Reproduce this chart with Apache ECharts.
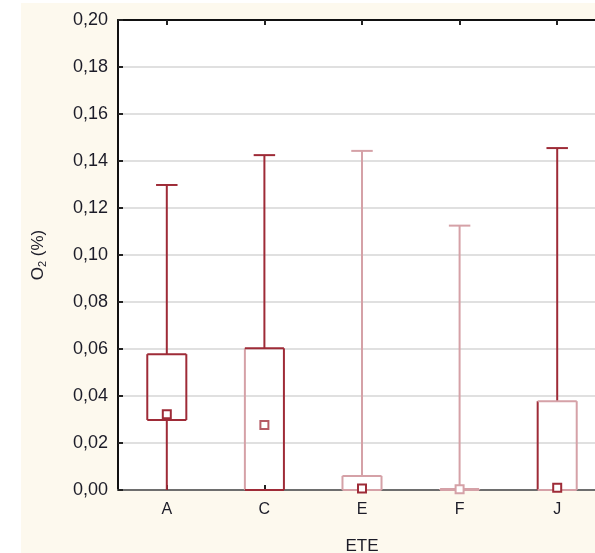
<!DOCTYPE html>
<html>
<head>
<meta charset="utf-8">
<script src="https://cdn.jsdelivr.net/npm/echarts@6/dist/echarts.min.js"></script>
<style>
html,body{margin:0;padding:0;background:#ffffff;overflow:hidden;width:595px;height:553px;}
#bg{position:absolute;left:21px;top:3px;width:574px;height:550px;background:#fdf9ee;}
#chart{position:absolute;left:0;top:0;width:620px;height:553px;}
</style>
</head>
<body>
<div id="bg"></div>
<div id="chart"></div>
<script>
// ---- data ----
const categories = ['A', 'C', 'E', 'F', 'J'];
const whiskerMax = [0.1298, 0.1425, 0.1443, 0.1125, 0.1455];
const boxTop     = [0.0578, 0.0603, 0.0060, 0.0004, 0.0378];
const medianVal  = [0.0322, 0.0277, 0.0006, 0.0003, 0.0010];
const boxBottom  = [0.0298, 0.0000, 0.0000, 0.0000, 0.0000];
const whiskerMin = [0.0000, 0.0000, 0.0000, 0.0000, 0.0000];
const yTicks = [0, 0.02, 0.04, 0.06, 0.08, 0.10, 0.12, 0.14, 0.16, 0.18, 0.20];

// ---- styles ----
const DARK = '#9e2b37';
const LIGHT = '#d5a1a7';
const whiskerColor = [DARK, DARK, LIGHT, LIGHT, DARK];
const boxLeftColor = [DARK, LIGHT, LIGHT, LIGHT, DARK];
const boxTopColor  = [DARK, DARK, LIGHT, LIGHT, LIGHT];
const boxRightColor= [DARK, DARK, LIGHT, LIGHT, LIGHT];
const medianColor  = [DARK, '#b55a64', DARK, LIGHT, DARK];

const chart = echarts.init(document.getElementById('chart'), null, {renderer: 'canvas'});
const fontFam = '"Liberation Sans", Arial, sans-serif';
const txt = '#1c1c28';

function renderItem(params, api) {
  const i = params.dataIndex;
  const x = api.coord([i, 0])[0];
  const band = api.size([1, 0])[0];
  const y = v => api.coord([i, v])[1];
  const bw = band * 0.40, cw = band * 0.22;
  const yMax = y(api.value(1)), yTop = y(api.value(2)), yMed = y(api.value(3));
  const yBot = y(api.value(4)), yMin = y(api.value(5));
  const L = x - bw / 2, R = x + bw / 2;
  const lw = 2;
  const line = (x1, y1, x2, y2, c) => ({type: 'line', shape: {x1, y1, x2, y2}, style: {stroke: c, lineWidth: lw}});
  const children = [
    line(x - cw / 2, yMax, x + cw / 2, yMax, whiskerColor[i]),
    line(x, yMax, x, yTop, whiskerColor[i]),
    line(x, yBot, x, yMin, whiskerColor[i]),
    line(L, yTop, L, yBot, boxLeftColor[i]),
    line(R, yTop, R, yBot, boxRightColor[i]),
    line(L, yTop, R, yTop, boxTopColor[i]),
    line(L, yBot, R, yBot, boxTopColor[i]),
    {type: 'rect', shape: {x: x - 4, y: yMed - 4, width: 8, height: 8},
     style: {fill: '#ffffff', stroke: medianColor[i], lineWidth: 2}}
  ];
  return {type: 'group', children};
}

const option = {
  backgroundColor: 'transparent',
  animation: false,
  grid: {left: 118, top: 20, width: 488, height: 470, show: true, backgroundColor: '#ffffff', borderWidth: 0,
         outerBoundsMode: 'none', containLabel: false},
  xAxis: [{
    type: 'category', data: categories, position: 'bottom',
    name: 'ETE', nameLocation: 'middle', nameGap: 48,
    nameTextStyle: {color: txt, fontSize: 17, fontFamily: fontFam},
    axisLine: {show: true, lineStyle: {color: '#6e6e6e', width: 2}},
    axisTick: {show: true, inside: true, alignWithLabel: true, length: 5, lineStyle: {color: '#222', width: 2}},
    axisLabel: {color: txt, fontSize: 16, fontFamily: fontFam, margin: 12},
    splitLine: {show: false}
  }, {
    type: 'category', data: categories, position: 'top',
    axisLine: {show: true, lineStyle: {color: '#111', width: 2}},
    axisTick: {show: true, inside: true, alignWithLabel: true, length: 5, lineStyle: {color: '#222', width: 2}},
    axisLabel: {show: false}, splitLine: {show: false}
  }],
  yAxis: {
    type: 'value', min: 0, max: 0.20, interval: 0.02,
    name: '{a|O}{s|2}{a| (%)}', nameLocation: 'middle', nameGap: 70, nameRotate: 90,
    nameTextStyle: {rich: {
      a: {color: txt, fontSize: 17, fontFamily: fontFam},
      s: {color: txt, fontSize: 11, fontFamily: fontFam, verticalAlign: 'bottom', padding: [8, 0, 0, 0]}
    }},
    axisLine: {show: true, lineStyle: {color: '#111', width: 2}},
    axisTick: {show: true, inside: true, length: 5, lineStyle: {color: '#222', width: 2}},
    axisLabel: {color: txt, fontSize: 18, fontFamily: fontFam, margin: 10,
      formatter: v => { const t = yTicks.find(k => Math.abs(k - v) < 1e-9); return (t !== undefined ? t : v).toFixed(2).replace('.', ','); }},
    splitLine: {show: true, lineStyle: {color: '#e0e0e0', width: 2}}
  },
  series: [{
    type: 'custom', xAxisIndex: 0, yAxisIndex: 0, clip: false,
    renderItem,
    encode: {x: 0, y: [1, 2, 3, 4, 5]},
    data: categories.map((c, i) => [i, whiskerMax[i], boxTop[i], medianVal[i], boxBottom[i], whiskerMin[i]])
  }]
};
chart.setOption(option);
</script>
</body>
</html>
